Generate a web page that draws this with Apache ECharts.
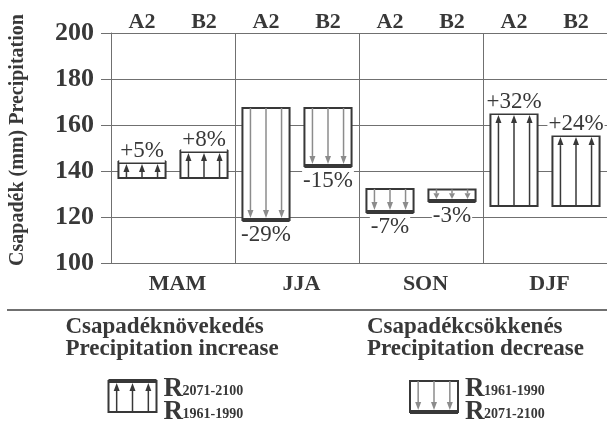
<!DOCTYPE html>
<html>
<head>
<meta charset="utf-8">
<script src="https://cdn.jsdelivr.net/npm/echarts@6/dist/echarts.min.js"></script>
<style>
  html, body { margin: 0; padding: 0; background: #fff; }
  #chart { width: 607px; height: 422px; }
</style>
</head>
<body>
<div id="chart"></div>
<script>
// scenario columns (two per season) and the season groups
const scenarios = ['A2', 'B2', 'A2', 'B2', 'A2', 'B2', 'A2', 'B2'];
const seasons = ['MAM', 'JJA', 'SON', 'DJF'];
// precipitation (mm), 1961-1990 reference and 2071-2100 projection
const past = [137, 137, 167.4, 167.4, 132.2, 132, 124.8, 124.8];
const future = [143.9, 148.7, 118.7, 142.2, 122.2, 127, 165.2, 155.6];
const changeLabels = ['+5%', '+8%', '-29%', '-15%', '-7%', '-3%', '+32%', '+24%'];
const yTicks = { min: 100, max: 200, step: 20 };

const FONT = "'Liberation Serif', 'Times New Roman', serif";
const INK = '#383838';
const GRID = '#707070';
const DOWN = '#8c8c8c';

// box with a thick edge at the projected value and three arrows past -> future
function boxShapes(cx, w, yPast, yFut) {
    const up = yFut < yPast;
    const top = Math.min(yPast, yFut), bottom = Math.max(yPast, yFut);
    const col = up ? INK : DOWN;
    const els = [{
        type: 'rect',
        shape: { x: cx - w / 2, y: top, width: w, height: bottom - top },
        style: { fill: '#fff', stroke: INK, lineWidth: 2 }
    }];
    const dir = up ? -1 : 1;
    const tip = yFut - dir * 2;
    const head = Math.min(8, Math.abs(tip - yPast) * 0.6);
    [-0.33, 0, 0.33].forEach(f => {
        const x = cx + f * w;
        els.push({
            type: 'line',
            shape: { x1: x, y1: yPast, x2: x, y2: tip - dir * head },
            style: { stroke: col, lineWidth: 1.5 }
        });
        els.push({
            type: 'polygon',
            shape: { points: [[x, tip], [x - 3, tip - dir * head], [x + 3, tip - dir * head]] },
            style: { fill: col }
        });
    });
    els.push({
        type: 'line',
        shape: { x1: cx - w / 2, y1: yFut, x2: cx + w / 2, y2: yFut },
        style: { stroke: INK, lineWidth: 4 }
    });
    return els;
}

const chart = echarts.init(document.getElementById('chart'));

function renderItem(params, api) {
    const i = api.value(0);
    const p0 = api.coord([i, api.value(1)]);
    const p1 = api.coord([i, api.value(2)]);
    const w = api.size([1, 0])[0] * 0.76;
    const els = boxShapes(p0[0], w, p0[1], p1[1]);
    const up = p1[1] < p0[1];
    els.push({
        type: 'text',
        style: {
            text: changeLabels[i],
            x: p0[0], y: p1[1] + (up ? -11 : 15),
            align: 'center', verticalAlign: 'middle',
            font: '23px ' + FONT, fill: INK,
            backgroundColor: '#fff', padding: [0, 1]
        }
    });
    return { type: 'group', children: els };
}

function legendItem(cx, up, r1, r2, titleLines) {
    const yTop = 381, yBot = 412;
    const shapes = up ? boxShapes(cx, 48, yBot, yTop) : boxShapes(cx, 48, yTop, yBot);
    const rText = (y, sub) => [{
        type: 'text',
        style: { text: 'R', x: cx + 31, y: y, verticalAlign: 'middle', font: 'bold 27px ' + FONT, fill: INK }
    }, {
        type: 'text',
        style: { text: sub, x: cx + 50, y: y + 2, verticalAlign: 'middle', font: 'bold 14px ' + FONT, fill: INK }
    }];
    return [
        { type: 'group', children: shapes },
        ...rText(389, r1),
        ...rText(412, r2),
        {
            type: 'text',
            style: {
                text: titleLines, x: cx - 67, y: 338,
                align: 'left', verticalAlign: 'middle',
                font: 'bold 23px ' + FONT, lineHeight: 22, fill: INK
            }
        }
    ];
}

chart.setOption({
    animation: false,
    grid: { left: 110, right: 0, top: 33, bottom: 159 },
    xAxis: [{
        type: 'category', position: 'top', data: scenarios,
        axisLine: { show: false }, axisTick: { show: false },
        axisLabel: { color: INK, fontFamily: FONT, fontWeight: 'bold', fontSize: 22, margin: 0 }
    }, {
        type: 'category', position: 'bottom', data: seasons,
        axisLine: { show: true, lineStyle: { color: GRID, width: 1 } },
        axisTick: { show: false },
        splitLine: { show: true, lineStyle: { color: GRID, width: 1 } },
        axisLabel: {
            color: INK, fontFamily: FONT, fontWeight: 'bold', fontSize: 22, margin: 10,
            padding: [0, 0, 0, 9]
        }
    }],
    yAxis: {
        type: 'value', min: yTicks.min, max: yTicks.max, interval: yTicks.step,
        name: 'Csapadék (mm) Precipitation', nameLocation: 'middle', nameGap: 83,
        nameTextStyle: {
            color: INK, fontFamily: FONT, fontWeight: 'bold', fontSize: 20,
            padding: [0, 0, 0, 16]
        },
        axisLine: { show: true, lineStyle: { color: GRID, width: 1 } },
        axisTick: { show: true, inside: false, length: 10, lineStyle: { color: GRID } },
        splitLine: { show: true, lineStyle: { color: GRID, width: 1 } },
        axisLabel: { color: INK, fontFamily: FONT, fontWeight: 'bold', fontSize: 26, margin: 17 }
    },
    series: [{
        type: 'custom',
        xAxisIndex: 0,
        clip: false,
        renderItem: renderItem,
        data: scenarios.map((s, i) => [i, past[i], future[i]])
    }],
    graphic: [
        { type: 'line', shape: { x1: 7, y1: 310, x2: 607, y2: 310 }, style: { stroke: GRID, lineWidth: 2 } },
        ...legendItem(132.5, true, '2071-2100', '1961-1990', 'Csapadéknövekedés\nPrecipitation increase'),
        ...legendItem(434, false, '1961-1990', '2071-2100', 'Csapadékcsökkenés\nPrecipitation decrease')
    ]
});
</script>
</body>
</html>
